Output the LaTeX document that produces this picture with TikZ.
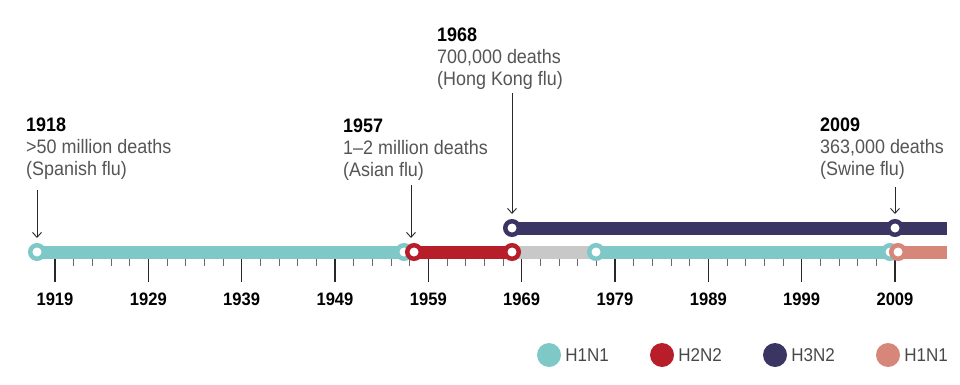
\documentclass[tikz,border=0pt]{standalone}
\usepackage{fontspec}
\setmainfont[FakeStretch=0.92]{Liberation Sans}
\usetikzlibrary{
    arrows.meta,
    positioning
}
\definecolor{FluTeal}{RGB}{126,200,200}
\definecolor{FluRed}{RGB}{184,30,42}
\definecolor{FluNavy}{RGB}{58,53,99}
\definecolor{FluSalmon}{RGB}{214,135,122}
\definecolor{FluGray}{RGB}{200,200,200}
\definecolor{LabelGray}{RGB}{85,85,85}
\definecolor{TickGray}{RGB}{40,40,40}

\begin{document}
\begin{tikzpicture}[
    x=1pt,
    y=-1pt,
    >={Straight Barb[length=5pt,width=9pt]},
    bar/.style={line width=13pt},
    ring/.style={circle, draw=#1, fill=white, line width=4.5pt, minimum size=13.5pt, inner sep=0pt},
    event/.style={anchor=north west, inner sep=0pt, align=left, text=LabelGray,
        font=\fontsize{19.5}{22}\selectfont},
    pointer/.style={->, TickGray, line width=0.9pt, shorten >=5pt},
    yearlabel/.style={anchor=base, inner sep=0pt, font=\fontsize{18}{20}\selectfont\bfseries},
    dot/.style={circle, fill=#1, minimum size=24pt, inner sep=0pt},
    keytext/.style={right=4pt of #1, inner sep=0pt, text=TickGray!85,
        font=\fontsize{18.5}{20}\selectfont}
]
\useasboundingbox (0,0) rectangle (960,385);

% axis ticks
\foreach \yr in {1919,1921,...,2009} {
    \pgfmathsetmacro\xx{55+(\yr-1919)*9.333}
    \draw[TickGray!70, line width=0.8pt] (\xx,258) -- (\xx,266);
}
\foreach \yr in {1919,1929,...,2009} {
    \pgfmathsetmacro\xx{55+(\yr-1919)*9.333}
    \draw[TickGray, line width=1.5pt] (\xx,258) -- (\xx,282);
    \node[yearlabel] (y\yr) at (\xx,305) {\yr};
}

% bars
\coordinate (p1918) at (37,252);
\coordinate (p1957a) at (404,252);
\coordinate (p1957) at (414,252);
\coordinate (p1968) at (512,252);
\coordinate (p1977) at (596,252);
\coordinate (p2009a) at (890,252);
\coordinate (p2009) at (898,252);
\coordinate (pend) at (947,252);
\coordinate (q1968) at (512,228);
\coordinate (q2009) at (895,228);
\coordinate (qend) at (947,228);

\draw[bar, FluTeal] (p1918) -- (p1957a);
\draw[bar, FluRed] (p1957) -- (p1968);
\draw[bar, FluGray] (p1968) -- (p1977);
\draw[bar, FluTeal] (p1977) -- (p2009a);
\draw[bar, FluSalmon] (p2009) -- (pend);
\draw[bar, FluNavy] (q1968) -- (qend);

% rings
\node[ring=FluTeal] (r1918) at (p1918) {};
\node[ring=FluTeal] (r1957a) at (p1957a) {};
\node[ring=FluRed] (r1957) at (p1957) {};
\node[ring=FluRed] (r1968a) at (p1968) {};
\node[ring=FluTeal] (r1977) at (p1977) {};
\node[ring=FluTeal] (r2009a) at (p2009a) {};
\node[ring=FluSalmon] (r2009b) at (p2009) {};
\node[ring=FluNavy] (r1968) at (q1968) {};
\node[ring=FluNavy] (r2009) at (q2009) {};

% events
\node[event] (l1918) at (26,118) {\textcolor{black}{\bfseries 1918}\\>50 million deaths\\(Spanish flu)};
\node[event] (l1957) at (343,119) {\textcolor{black}{\bfseries 1957}\\1–2 million deaths\\(Asian flu)};
\node[event] (l1968) at (437,28) {\textcolor{black}{\bfseries 1968}\\700,000 deaths\\(Hong Kong flu)};
\node[event] (l2009) at (820,118) {\textcolor{black}{\bfseries 2009}\\363,000 deaths\\(Swine flu)};

\coordinate (a1918) at (37,190);
\coordinate (a1957) at (411,185);
\coordinate (a1968) at (512,93);
\coordinate (a2009) at (895,187);

\draw[pointer] (a1918) -- (a1918 |- r1918.north);
\draw[pointer] (a1957) -- (a1957 |- r1957.north);
\draw[pointer] (a1968) -- (a1968 |- r1968.north);
\draw[pointer] (a2009) -- (a2009 |- r2009.north);

% legend
\node[dot=FluTeal] (k1) at (549,355) {};
\node[keytext=k1] (t1) {H1N1};
\node[dot=FluRed] (k2) at (662,355) {};
\node[keytext=k2] (t2) {H2N2};
\node[dot=FluNavy] (k3) at (775,355) {};
\node[keytext=k3] (t3) {H3N2};
\node[dot=FluSalmon] (k4) at (888,355) {};
\node[keytext=k4] (t4) {H1N1};

\end{tikzpicture}
\end{document}
